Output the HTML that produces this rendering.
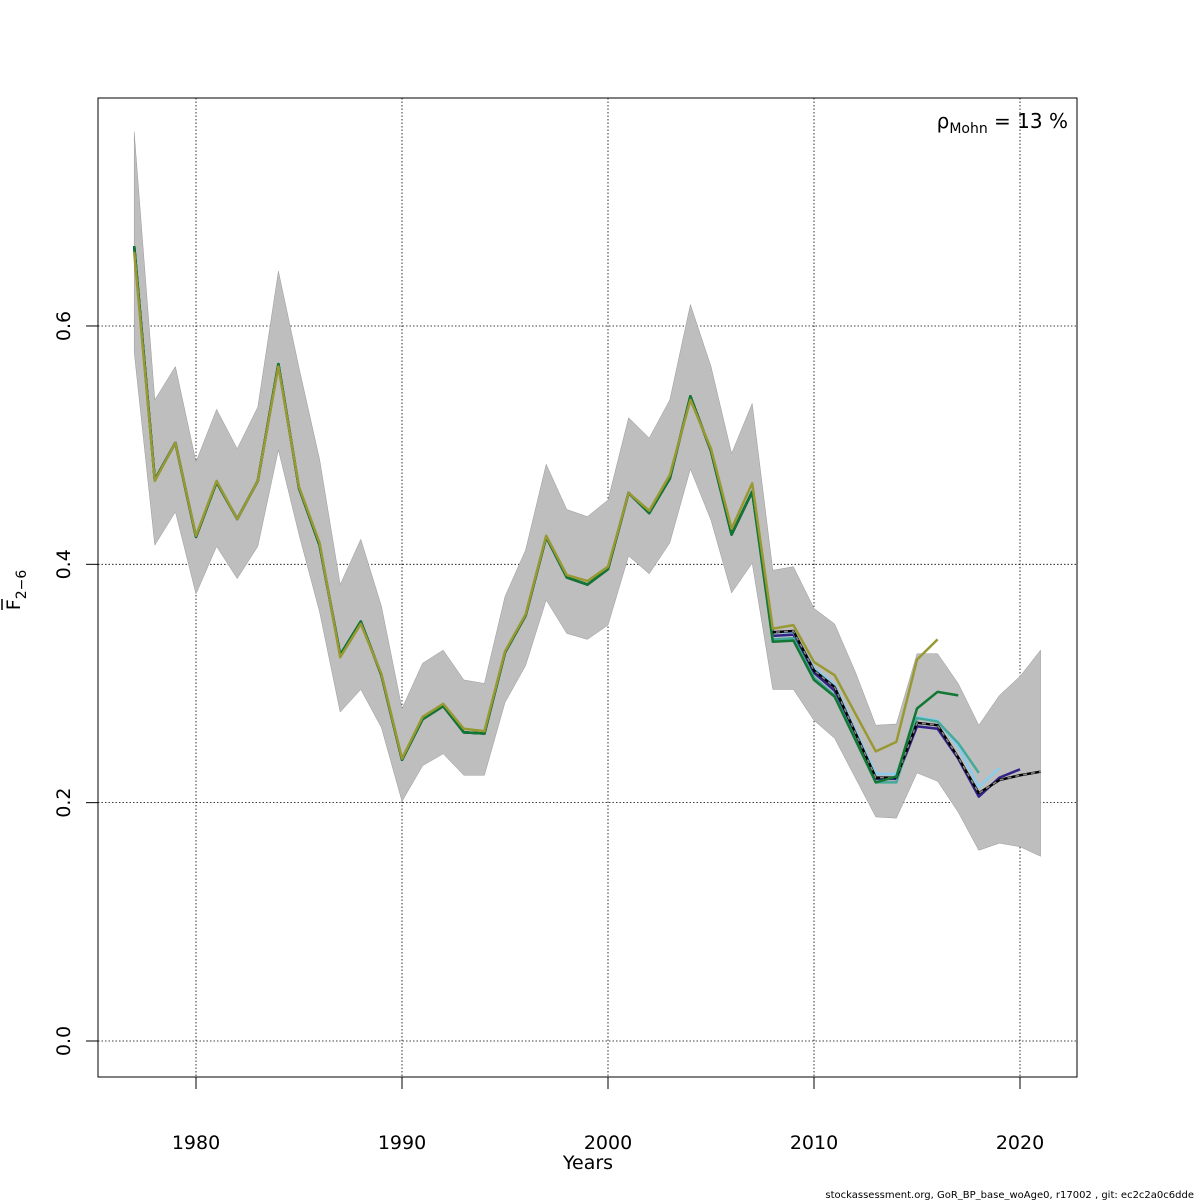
<!DOCTYPE html>
<html><head><meta charset="utf-8"><style>
html,body{margin:0;padding:0;background:#fff;}
svg{display:block;font-family:"DejaVu Sans","Liberation Sans",sans-serif;}
</style></head><body>
<svg id="chart" width="1200" height="1200" viewBox="0 0 1200 1200" xmlns="http://www.w3.org/2000/svg">
<g id="grid"></g>
<g id="band"></g>
<g id="lines"></g>
<rect x="98" y="98" width="979" height="979" fill="none" stroke="#000" stroke-width="1"/>
<g id="axes"></g>
<text x="1068" y="128" font-size="20" text-anchor="end">ρ<tspan font-size="14" dy="5">Mohn</tspan><tspan dy="-5"> = 13 %</tspan></text>
<text x="588" y="1169" font-size="19" text-anchor="middle">Years</text>
<g transform="translate(20,590) rotate(-90)">
<text x="0" y="0" font-size="19" text-anchor="middle">F<tspan font-size="14" dy="6">2−6</tspan></text>
<line x1="-20" y1="-18" x2="-9" y2="-18" stroke="#000" stroke-width="1.5"/>
</g>
<text x="1194" y="1198" font-size="10" text-anchor="end">stockassessment.org, GoR_BP_base_woAge0, r17002 , git: ec2c2a0c6dde</text>
</svg>
<script>
const years = [1977,1978,1979,1980,1981,1982,1983,1984,1985,1986,1987,1988,1989,1990,1991,1992,1993,1994,1995,1996,1997,1998,1999,2000,2001,2002,2003,2004,2005,2006,2007,2008,2009,2010,2011,2012,2013,2014,2015,2016,2017,2018,2019,2020,2021];
const baseF = [0.667,0.471,0.502,0.423,0.469,0.438,0.470,0.568,0.464,0.416,0.324,0.352,0.307,0.236,0.270,0.281,0.259,0.258,0.326,0.357,0.423,0.389,0.383,0.396,0.460,0.443,0.472,0.541,0.495,0.425,0.461,0.343,0.344,0.311,0.297,0.259,0.221,0.221,0.267,0.265,0.238,0.208,0.219,0.223,0.226];
const upperF = [0.763,0.538,0.566,0.486,0.530,0.497,0.532,0.646,0.565,0.488,0.383,0.421,0.365,0.279,0.317,0.328,0.303,0.300,0.373,0.412,0.484,0.446,0.440,0.454,0.523,0.506,0.538,0.618,0.566,0.493,0.535,0.395,0.398,0.363,0.350,0.310,0.265,0.266,0.325,0.325,0.300,0.265,0.290,0.306,0.328];
const lowerF = [0.578,0.416,0.444,0.375,0.415,0.388,0.415,0.496,0.425,0.360,0.276,0.295,0.263,0.201,0.231,0.241,0.223,0.223,0.284,0.315,0.370,0.342,0.337,0.349,0.407,0.392,0.418,0.480,0.437,0.376,0.401,0.295,0.295,0.269,0.254,0.221,0.188,0.187,0.225,0.218,0.192,0.160,0.166,0.163,0.155];
const earlyF = [0.667,0.471,0.502,0.423,0.469,0.438,0.470,0.568,0.464,0.416,0.324,0.352,0.307,0.236,0.270,0.281,0.259,0.258,0.326,0.357,0.423,0.389,0.383,0.396,0.460,0.443,0.472,0.541,0.495,0.425,0.461];
const earlyOlive = [0.662,0.470,0.502,0.424,0.470,0.438,0.470,0.566,0.465,0.418,0.322,0.350,0.308,0.237,0.272,0.283,0.262,0.260,0.327,0.358,0.424,0.391,0.386,0.398,0.460,0.445,0.475,0.538,0.497,0.430,0.468];
const olivePeel = [0.346,0.349,0.318,0.307,0.275,0.243,0.251,0.320,0.337];
const greenPeel = [0.335,0.336,0.303,0.289,0.253,0.217,0.222,0.279,0.293,0.290];
const tealPeel = [0.337,0.338,0.305,0.290,0.254,0.217,0.217,0.271,0.268,0.250,0.225];
const bluePeel = [0.343,0.343,0.313,0.299,0.261,0.224,0.224,0.272,0.269,0.247,0.213,0.229];
const purplePeel = [0.340,0.341,0.309,0.294,0.257,0.220,0.220,0.264,0.262,0.237,0.205,0.221,0.228];
const xTicks = [1980,1990,2000,2010,2020];
const yTicks = [0,0.2,0.4,0.6];
const yTickLabels = ["0.0","0.2","0.4","0.6"];

const NS = "http://www.w3.org/2000/svg";
const sx = y => 196 + (y - 1980) * 20.6;
const sy = v => 1041 - v * 1191.7;
function mk(tag, attrs, parent){ const e=document.createElementNS(NS,tag); for(const k in attrs) e.setAttribute(k,attrs[k]); parent.appendChild(e); return e; }
const grid=document.getElementById('grid'), band=document.getElementById('band'), lines=document.getElementById('lines'), axes=document.getElementById('axes');

xTicks.forEach(t=>{
  const l=mk('line',{x1:sx(t),x2:sx(t),y1:98,y2:1077,stroke:'#000','stroke-width':0.8,'stroke-dasharray':'1.5,2'},grid);
  
  
  const tk=mk('line',{x1:sx(t),x2:sx(t),y1:1077,y2:1089,stroke:'#000'},axes);
  
  
  const tx=mk('text',{x:sx(t),y:1149,'font-size':19,'text-anchor':'middle'},axes);
  tx.textContent=t;
  
  
});
yTicks.forEach((t,i)=>{
  const l=mk('line',{x1:98,x2:1077,y1:sy(t),y2:sy(t),stroke:'#000','stroke-width':0.8,'stroke-dasharray':'1.5,2'},grid);
  
  
  const tk=mk('line',{x1:86,x2:98,y1:sy(t),y2:sy(t),stroke:'#000'},axes);
  
  
  const tx=mk('text',{x:0,y:0,'font-size':19,'text-anchor':'middle',transform:`translate(70,${sy(t)}) rotate(-90)`},axes);
  tx.textContent=yTickLabels[i];
  
  
});

let pts = years.map((y,i)=>sx(y)+','+sy(upperF[i]));
for(let i=years.length-1;i>=0;i--) pts.push(sx(years[i])+','+sy(lowerF[i]));
const poly=mk('polygon',{points:pts.join(' '),fill:'#bebebe',stroke:'#9a9a9a','stroke-width':0.5},band);



function drawLine(vals, color, w, name, dash){
  const p=vals.map((v,i)=>sx(years[i])+','+sy(v)).join(' ');
  const a={points:p,fill:'none',stroke:color,'stroke-width':w,'stroke-linejoin':'round'};
  if(dash) a['stroke-dasharray']=dash;
  const e=mk('polyline',a,lines);
  
  
}
drawLine(earlyF.concat(purplePeel),'#332288',2.5,'retro-peel-1');
drawLine(earlyF.concat(bluePeel),'#88ccee',2.5,'retro-peel-2');
drawLine(earlyF.concat(tealPeel),'#44aa99',2.5,'retro-peel-3');
drawLine(baseF,'#000',2.5,'base-run-line');
drawLine(baseF,'#888',1.5,'base-run-dash','4,4');
drawLine(earlyF.concat(greenPeel),'#117733',2.5,'retro-peel-4');
drawLine(earlyOlive.concat(olivePeel),'#999933',2.5,'retro-peel-5');
</script>
</body></html>
